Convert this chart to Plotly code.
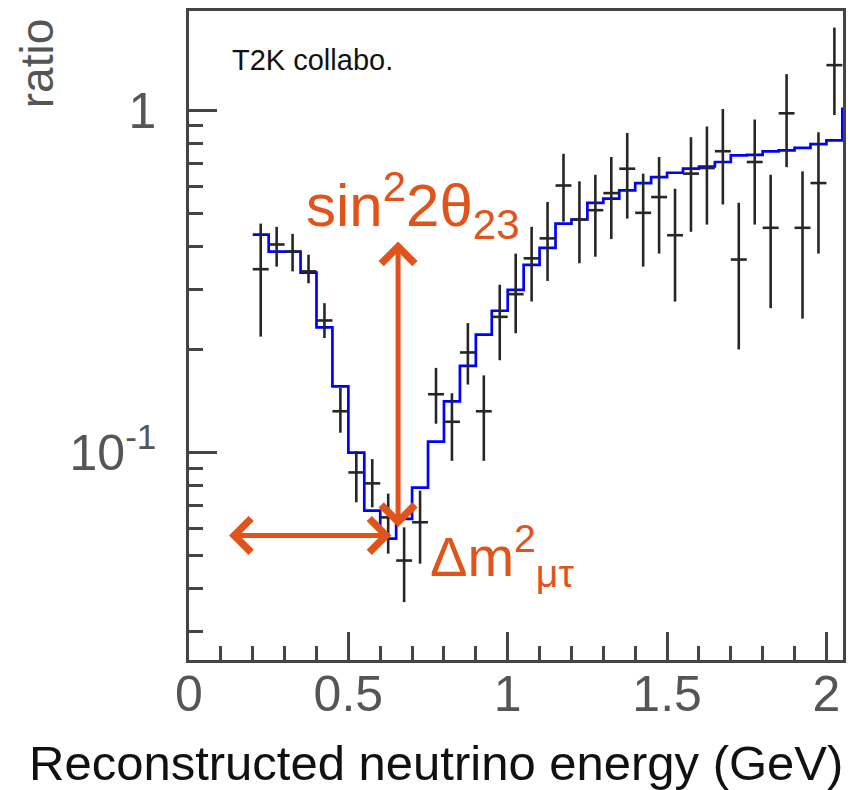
import math
import plotly.graph_objects as go

# ---- data ----
energy = [0.225, 0.275, 0.325, 0.375, 0.425, 0.475, 0.525, 0.575, 0.625, 0.675,
          0.725, 0.775, 0.825, 0.875, 0.925, 0.975, 1.025, 1.075, 1.125, 1.175,
          1.225, 1.275, 1.325, 1.375, 1.425, 1.475, 1.525, 1.575, 1.625, 1.675,
          1.725, 1.775, 1.825, 1.875, 1.925, 1.975, 2.025]
ratio = [0.343, 0.405, 0.386, 0.338, 0.243, 0.132, 0.0875, 0.0813, 0.0647, 0.0484,
         0.0626, 0.148, 0.123, 0.196, 0.132, 0.249, 0.29, 0.369, 0.422, 0.602,
         0.479, 0.510, 0.572, 0.674, 0.501, 0.557, 0.431, 0.652, 0.677, 0.758,
         0.366, 0.705, 0.453, 0.978, 0.453, 0.612, 1.352]
ratio_upper = [0.466, 0.456, 0.435, 0.378, 0.273, 0.1545, 0.101, 0.0957, 0.0759, 0.0605,
               0.0774, 0.1767, 0.149, 0.2387, 0.168, 0.309, 0.381, 0.456, 0.539, 0.745,
               0.619, 0.647, 0.729, 0.857, 0.652, 0.729, 0.589, 0.833, 0.895, 1.007,
               0.536, 0.938, 0.647, 1.273, 0.662, 0.861, 1.74]
ratio_lower = [0.218, 0.349, 0.338, 0.312, 0.216, 0.1143, 0.0716, 0.0692, 0.0507, 0.0366,
               0.0474, 0.1214, 0.0946, 0.158, 0.0946, 0.186, 0.223, 0.276, 0.317, 0.472,
               0.357, 0.373, 0.420, 0.482, 0.349, 0.381, 0.276, 0.441, 0.463, 0.530,
               0.200, 0.463, 0.264, 0.681, 0.246, 0.381, 0.967]
bin_halfwidth = [0.025] * len(energy)

model_edges = [0.20, 0.25, 0.30, 0.35, 0.40, 0.45, 0.50, 0.55, 0.60, 0.65,
               0.70, 0.75, 0.80, 0.85, 0.90, 0.95, 1.00, 1.05, 1.10, 1.15,
               1.20, 1.25, 1.30, 1.35, 1.40, 1.45, 1.50, 1.55, 1.60, 1.65,
               1.70, 1.75, 1.80, 1.85, 1.90, 1.95, 2.00, 2.05, 2.10]
model_ratio = [0.433, 0.386, 0.386, 0.335, 0.232, 0.156, 0.100, 0.0677, 0.0561, 0.064,
               0.079, 0.1076, 0.141, 0.179, 0.221, 0.2594, 0.2985, 0.353, 0.396, 0.466,
               0.479, 0.536, 0.551, 0.583, 0.612, 0.637, 0.656, 0.674, 0.684, 0.705,
               0.737, 0.740, 0.757, 0.762, 0.775, 0.795, 0.815, 1.007]

x_major_ticks = [0, 0.5, 1, 1.5, 2]
x_major_text = ["0", "0.5", "1", "1.5", "2"]
y_major_ticks = [0.1, 1]
y_major_text = ["10<sup>-1</sup>", "1"]
y_minor_ticks = [0.03, 0.04, 0.05, 0.06, 0.07, 0.08, 0.09,
                 0.2, 0.3, 0.4, 0.5, 0.6, 0.7, 0.8, 0.9]

# arrows (annotation geometry): vertical = depth, horizontal = dip position
vert_arrow_x = 0.656
vert_arrow_y = [0.413, 0.060]
horiz_arrow_x = [0.121, 0.635]
horiz_arrow_y = 0.0573

AXC = "#444444"
ORANGE = "#E0531B"
REG = "Liberation Sans, Arial, sans-serif"

fig = go.Figure()

fig.add_trace(go.Scatter(
    x=model_edges, y=model_ratio + [model_ratio[-1]],
    mode="lines", line=dict(color="#0000FF", width=2.7, shape="hv"),
    hoverinfo="skip", showlegend=False))

fig.add_trace(go.Scatter(
    x=energy, y=ratio, mode="markers",
    marker=dict(size=1, color="rgba(0,0,0,0)"),
    error_x=dict(type="data", array=bin_halfwidth, width=0, thickness=2.6, color="#262626"),
    error_y=dict(type="data",
                 array=[u - r for u, r in zip(ratio_upper, ratio)],
                 arrayminus=[r - l for r, l in zip(ratio, ratio_lower)],
                 width=0, thickness=2.6, color="#262626"),
    showlegend=False))

# page body has an 8px margin, so the figure is 8px smaller than the window
fig.update_layout(
    width=852, height=782,
    margin=dict(l=181, r=17, t=0, b=130),
    paper_bgcolor="white", plot_bgcolor="white",
    xaxis=dict(range=[0, 2.052], showgrid=False, zeroline=False,
               showline=True, linecolor=AXC, linewidth=2.5, mirror=True,
               ticks="inside", ticklen=28, tickwidth=2.5, tickcolor=AXC,
               tickmode="array", tickvals=x_major_ticks, ticktext=x_major_text,
               tickfont=dict(family=REG, size=50, color="#555555"),
               ticklabelstandoff=-12,
               minor=dict(ticks="inside", ticklen=14, tickwidth=2.5, tickcolor=AXC,
                          dtick=0.1, tick0=0, showgrid=False)),
    yaxis=dict(type="log", range=[-1.6055, 0.289], showgrid=False, zeroline=False,
               showline=True, linecolor=AXC, linewidth=2.5, mirror=True,
               ticks="inside", ticklen=28, tickwidth=2.5, tickcolor=AXC,
               tickmode="array", tickvals=y_major_ticks, ticktext=y_major_text,
               tickfont=dict(family=REG, size=50, color="#555555"),
               ticklabelstandoff=20,
               minor=dict(ticks="inside", ticklen=14, tickwidth=2.5, tickcolor=AXC,
                          tickmode="array", tickvals=y_minor_ticks, showgrid=False)),
)

annos = [
    dict(text="T2K collabo.", xref="paper", yref="paper", x=0.062, y=0.9245,
         xanchor="left", yanchor="middle", showarrow=False,
         font=dict(family=REG, size=29, color="#111111")),
    dict(text="ratio", xref="paper", yref="paper", x=-0.232, y=0.99, textangle=-90,
         xanchor="center", yanchor="top", showarrow=False,
         font=dict(family=REG, size=46, color="#555555")),
    dict(text="Reconstructed neutrino energy (GeV)", xref="paper", yref="paper",
         x=1.003, y=-0.158, xanchor="right", yanchor="middle", showarrow=False,
         font=dict(family=REG, size=49, color="#111111")),
    dict(text="sin<sup>2</sup>2θ<sub>23</sub>", xref="paper", yref="paper",
         x=0.176, y=0.70, xanchor="left", yanchor="middle", showarrow=False,
         font=dict(family=REG, size=60, color=ORANGE)),
    dict(text="Δm<sup>2</sup><sub>μτ</sub>", xref="paper", yref="paper",
         x=0.365, y=0.16, xanchor="left", yanchor="middle", showarrow=False,
         font=dict(family=REG, size=56, color=ORANGE)),
    dict(text="", x=vert_arrow_x, y=math.log10(vert_arrow_y[0]),
         ax=vert_arrow_x, ay=math.log10(vert_arrow_y[1]), xref="x", yref="y",
         axref="x", ayref="y", showarrow=True, arrowhead=4, startarrowhead=4,
         arrowside="end+start", arrowwidth=5, arrowsize=1.3, startarrowsize=1.3,
         arrowcolor=ORANGE),
    dict(text="", x=horiz_arrow_x[1], y=math.log10(horiz_arrow_y),
         ax=horiz_arrow_x[0], ay=math.log10(horiz_arrow_y), xref="x", yref="y",
         axref="x", ayref="y", showarrow=True, arrowhead=4, startarrowhead=4,
         arrowside="end+start", arrowwidth=5, arrowsize=1.3, startarrowsize=1.3,
         arrowcolor=ORANGE),
]
fig.update_layout(annotations=annos)

fig.write_html("out.html")
